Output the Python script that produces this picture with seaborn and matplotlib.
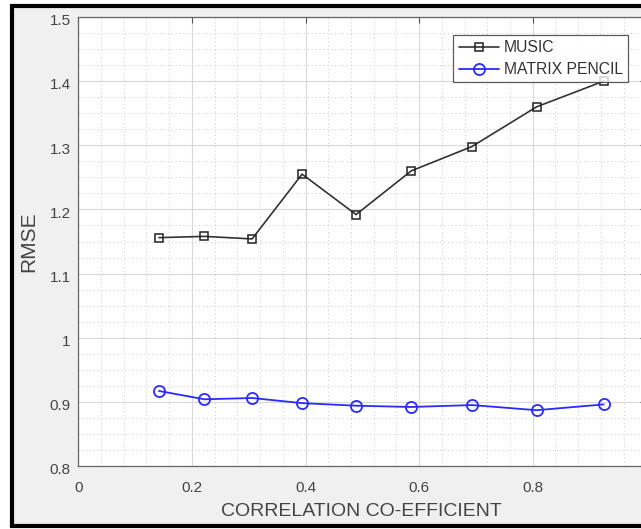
import matplotlib
matplotlib.use("Agg")
import matplotlib.pyplot as plt
import seaborn as sns
import pandas as pd
from matplotlib.patches import Rectangle
from matplotlib.ticker import MultipleLocator
from matplotlib.transforms import ScaledTranslation

corr = [0.142, 0.222, 0.306, 0.394, 0.489, 0.586, 0.693, 0.807, 0.925]
music = [1.156, 1.158, 1.154, 1.255, 1.192, 1.260, 1.298, 1.360, 1.400]
mpencil = [0.917, 0.904, 0.906, 0.898, 0.894, 0.892, 0.895, 0.887, 0.896]
series_names = ["MUSIC", "MATRIX PENCIL"]
xticks = [0, 0.2, 0.4, 0.6, 0.8, 1]
yticks = [0.8, 0.9, 1.0, 1.1, 1.2, 1.3, 1.4, 1.5]
ytick_labels = ["0.8", "0.9", "1", "1.1", "1.2", "1.3", "1.4", "1.5"]
xtick_labels = ["0", "0.2", "0.4", "0.6", "0.8", "1"]

sns.set_style("white")
plt.rcParams['font.family'] = ['Liberation Sans', 'DejaVu Sans']

fig = plt.figure(figsize=(6.41, 5.29), dpi=100)
fig.patch.set_facecolor("white")
# gray background with black frame
fig.patches.append(Rectangle((12/641, 3/529), 1.0, 520/529, transform=fig.transFigure,
                             facecolor="#f0f0f0", edgecolor="black", linewidth=3.0, zorder=-10))

ax = fig.add_axes([78.3/641, (529-466)/529, 568/641, 449/529])
ax.set_zorder(1)
ax.set_facecolor("white")

df1 = pd.DataFrame({"x": corr, "y": music})
df2 = pd.DataFrame({"x": corr, "y": mpencil})
sns.lineplot(data=df1, x="x", y="y", ax=ax, color="#333333", marker="s", markersize=6,
             markerfacecolor="none", markeredgecolor="#222222", markeredgewidth=1.1,
             linewidth=1.2, label=series_names[0], sort=False)
sns.lineplot(data=df2, x="x", y="y", ax=ax, color="#2a2aff", marker="o", markersize=8,
             markerfacecolor="none", markeredgecolor="#2a2aff", markeredgewidth=1.3,
             linewidth=1.3, label=series_names[1], sort=False)

ax.set_xlim(0, 1)
ax.set_ylim(0.8, 1.5)
ax.set_xticks(xticks)
ax.set_xticklabels(xtick_labels)
ax.set_yticks(yticks)
ax.set_yticklabels(ytick_labels)
ax.xaxis.set_minor_locator(MultipleLocator(0.04))
ax.yaxis.set_minor_locator(MultipleLocator(0.025))
ax.grid(True, which="major", color="#d9d9d9", linewidth=0.8, linestyle="-")
ax.grid(True, which="minor", color="#c8c8c8", linewidth=0.7, linestyle=(0, (1, 3)))
ax.set_axisbelow(True)
ax.tick_params(which="major", direction="in", length=4, width=0.8, colors="#555555",
               top=True, right=True, labelsize=11, labelcolor="#444444")
ax.tick_params(axis="x", which="major", pad=10.5)
ax.tick_params(axis="y", which="major", pad=5.5)
ax.tick_params(which="minor", length=0)
for lbl in ax.get_yticklabels():
    lbl.set_transform(lbl.get_transform() + ScaledTranslation(0, -2/72, fig.dpi_scale_trans))
for s in ax.spines.values():
    s.set_color("#666666")
    s.set_linewidth(0.9)

ax.set_xlabel("CORRELATION CO-EFFICIENT", fontsize=14, color="#444444", va="center")
ax.xaxis.set_label_coords((361 - 78.3) / 568, (466 - 511) / 449)
ax.set_ylabel("RMSE", fontsize=15, color="#444444", va="center")
ax.yaxis.set_label_coords((29 - 78.3) / 568, 0.5)

leg = ax.legend(loc="upper right", bbox_to_anchor=((628 - 78.3) / 568, 1 - 18/449), frameon=True,
                fontsize=11.3, handlelength=2.6, handletextpad=0.27, borderpad=0.33,
                labelspacing=0.45, fancybox=False, borderaxespad=0)
leg.get_frame().set_edgecolor("#333333")
leg.get_frame().set_linewidth(0.9)
for t in leg.get_texts():
    t.set_color("#333333")

fig.savefig("out.png", dpi=100)
